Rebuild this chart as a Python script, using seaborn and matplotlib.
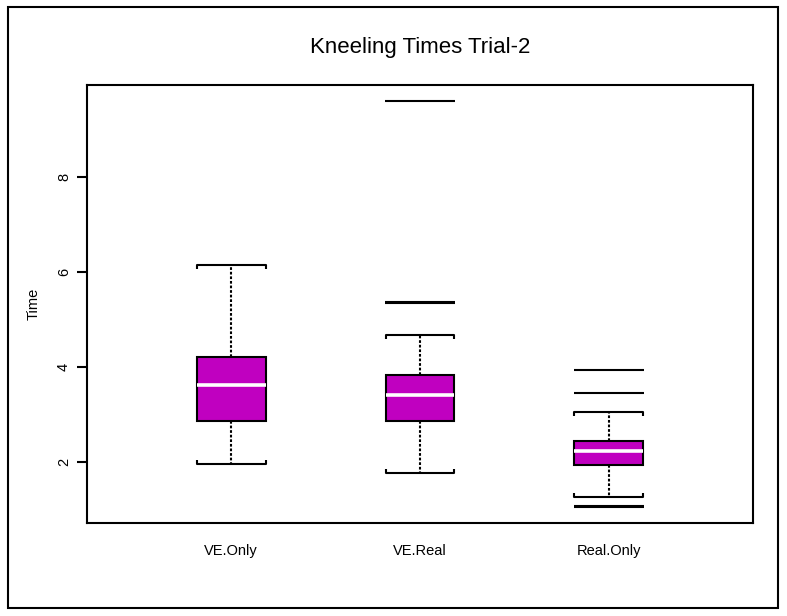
import pandas as pd
import numpy as np
import seaborn as sns
import matplotlib.pyplot as plt
from matplotlib.patches import Rectangle

# values (quartiles, whisker ends, outlier lines)
groups = ["VE.Only", "VE.Real", "Real.Only"]

ve_only = [1.96, 2.30, 2.60, 2.86, 3.10, 3.40, 3.62, 3.80, 4.00, 4.21, 4.60, 5.30, 6.15]
ve_real = [1.77, 2.20, 2.45, 2.60, 2.75, 2.86, 2.95, 3.05, 3.20, 3.30, 3.41,
           3.50, 3.60, 3.70, 3.78, 3.83, 4.10, 4.67, 5.34, 5.38, 9.60]
real_only = [1.05, 1.08, 1.26, 1.55, 1.80, 1.94, 2.00, 2.08, 2.15, 2.20, 2.23,
             2.27, 2.32, 2.37, 2.41, 2.44, 2.60, 2.85, 3.05, 3.45, 3.93]

title = "Kneeling Times Trial-2"
y_label = "Time"
y_ticks = [2, 4, 6, 8]

df = pd.DataFrame({
    "group": [groups[0]] * len(ve_only) + [groups[1]] * len(ve_real) + [groups[2]] * len(real_only),
    "time": ve_only + ve_real + real_only,
})

sns.set_style("ticks")
plt.rcParams["font.family"] = ["Liberation Sans", "DejaVu Sans"]
plt.rcParams["text.color"] = "black"
plt.rcParams["axes.labelcolor"] = "black"
plt.rcParams["xtick.color"] = "black"
plt.rcParams["ytick.color"] = "black"

fig = plt.figure(figsize=(7.87, 6.16), dpi=100)
ax = fig.add_axes([87 / 787, 93 / 616, 666 / 787, 438 / 616])

sns.boxplot(data=df, x="group", y="time", order=groups, color="#C000C0",
            saturation=1, width=0.365, linecolor="black", linewidth=1.5,
            whis=1.5, ax=ax, capwidths=0.365,
            medianprops=dict(color="white", linewidth=2.6),
            whiskerprops=dict(linestyle=(0, (1.3, 0.9))),
            flierprops=dict(marker="_", markersize=50, markeredgewidth=1.5,
                            markeredgecolor="black"))

# little end hooks on the caps, pointing towards the box
for c in ax.containers:
    for i, cap in enumerate(c.caps):
        cap.set_marker(2 if i % 2 == 0 else 3)
        cap.set_markersize(3)
        cap.set_markeredgewidth(1.5)
        cap.set_markeredgecolor("black")
    for m in c.medians:
        m.set_color("white")

ax.set_xlim(-0.762, 2.762)
ax.set_ylim(0.716, 9.94)
ax.set_yticks(y_ticks)
ax.set_xlabel("")
ax.set_ylabel(y_label, fontsize=10.5)
ax.yaxis.set_label_coords(-0.07, 0.5)
ax.set_title(title, fontsize=16, pad=23)

for s in ax.spines.values():
    s.set_visible(True)
    s.set_linewidth(1.5)
    s.set_color("black")

ax.tick_params(axis="y", left=True, direction="out", length=7.5, width=1.5,
               pad=4, labelsize=10.5, labelrotation=90, color="black")
ax.tick_params(axis="x", bottom=False, length=0, pad=15, labelsize=10.5)
for lab in ax.get_yticklabels():
    lab.set_va("center")

fig.add_artist(Rectangle((8 / 787, 8 / 616), 770 / 787, 601 / 616,
                         transform=fig.transFigure, fill=False, lw=1.5, ec="black"))

fig.savefig("out.png", dpi=100)
